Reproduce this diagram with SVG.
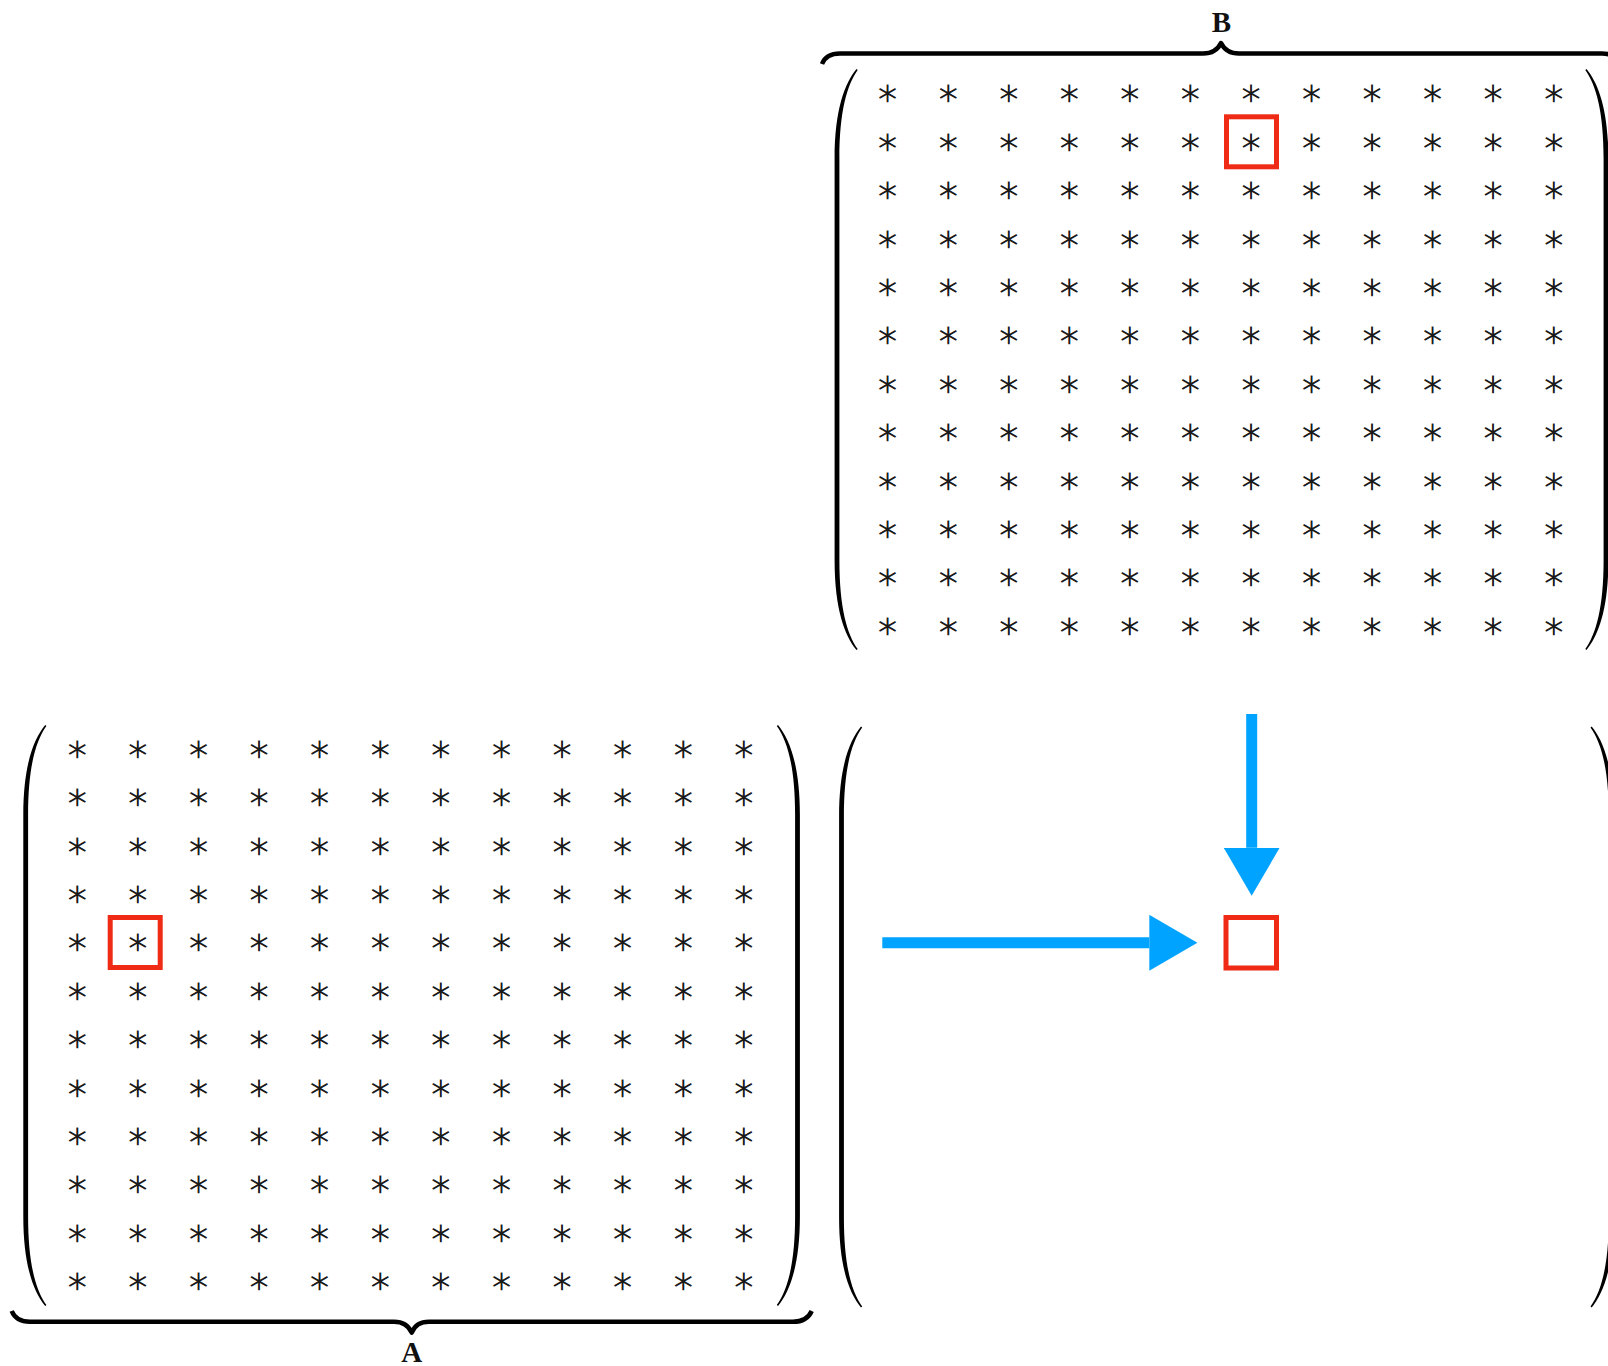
<svg xmlns="http://www.w3.org/2000/svg" xmlns:xlink="http://www.w3.org/1999/xlink" width="1608" height="1366" viewBox="0 0 1608 1366">
<style>
.st{font-family:"DejaVu Sans",sans-serif;font-weight:200;font-size:37px;fill:#1a1a1a;stroke:#1a1a1a;stroke-width:0.9;text-anchor:middle;dominant-baseline:central}
.lbl{font-family:"Liberation Serif",serif;font-weight:bold;font-size:29px;fill:#111;text-anchor:middle}
.brace{fill:none;stroke:#000;stroke-width:4.5;stroke-linejoin:round}
.par{fill:#000}
.box{fill:none;stroke:#ef2b16;stroke-width:5}
.arr{stroke:#00a3ff;stroke-width:11;fill:none}
</style>
<defs>
<path id="lp" d="M19.5,0 C8,14 -2.4,40 -2.4,90 L-2.4,491 C-2.4,541 8,567 19.5,581 L20.7,580.1 C10,565 2.4,539 2.4,491 L2.4,90 C2.4,42 10,16 20.7,0.9 Z"/>
<marker id="ah" viewBox="0 0 48 56" refX="0" refY="28" markerWidth="48" markerHeight="56" markerUnits="userSpaceOnUse" orient="auto">
<path d="M0,0 L48,28 L0,56 Z" fill="#00a3ff"/>
</marker>
</defs>

<g id="matrixB">
<path class="brace" d="M822,64 Q826,53.5 840,53.5 L1203,53.5 Q1216,53.5 1221,43 Q1226,53.5 1239,53.5 L1602,53.5 Q1616,53.5 1620,64"/>
<text class="lbl" x="1221.5" y="32">B</text>
<use href="#lp" class="par" transform="translate(837,69)"/>
<use href="#lp" class="par" transform="translate(1606,69) scale(-1,1)"/>
<g class="st">
<text x="887.7 948.25 1008.8 1069.35 1129.9 1190.45 1251 1311.55 1372.1 1432.65 1493.2 1553.75" y="92.8">∗∗∗∗∗∗∗∗∗∗∗∗</text>
<text x="887.7 948.25 1008.8 1069.35 1129.9 1190.45 1251 1311.55 1372.1 1432.65 1493.2 1553.75" y="141.2">∗∗∗∗∗∗∗∗∗∗∗∗</text>
<text x="887.7 948.25 1008.8 1069.35 1129.9 1190.45 1251 1311.55 1372.1 1432.65 1493.2 1553.75" y="189.6">∗∗∗∗∗∗∗∗∗∗∗∗</text>
<text x="887.7 948.25 1008.8 1069.35 1129.9 1190.45 1251 1311.55 1372.1 1432.65 1493.2 1553.75" y="238">∗∗∗∗∗∗∗∗∗∗∗∗</text>
<text x="887.7 948.25 1008.8 1069.35 1129.9 1190.45 1251 1311.55 1372.1 1432.65 1493.2 1553.75" y="286.4">∗∗∗∗∗∗∗∗∗∗∗∗</text>
<text x="887.7 948.25 1008.8 1069.35 1129.9 1190.45 1251 1311.55 1372.1 1432.65 1493.2 1553.75" y="334.8">∗∗∗∗∗∗∗∗∗∗∗∗</text>
<text x="887.7 948.25 1008.8 1069.35 1129.9 1190.45 1251 1311.55 1372.1 1432.65 1493.2 1553.75" y="383.2">∗∗∗∗∗∗∗∗∗∗∗∗</text>
<text x="887.7 948.25 1008.8 1069.35 1129.9 1190.45 1251 1311.55 1372.1 1432.65 1493.2 1553.75" y="431.6">∗∗∗∗∗∗∗∗∗∗∗∗</text>
<text x="887.7 948.25 1008.8 1069.35 1129.9 1190.45 1251 1311.55 1372.1 1432.65 1493.2 1553.75" y="480">∗∗∗∗∗∗∗∗∗∗∗∗</text>
<text x="887.7 948.25 1008.8 1069.35 1129.9 1190.45 1251 1311.55 1372.1 1432.65 1493.2 1553.75" y="528.4">∗∗∗∗∗∗∗∗∗∗∗∗</text>
<text x="887.7 948.25 1008.8 1069.35 1129.9 1190.45 1251 1311.55 1372.1 1432.65 1493.2 1553.75" y="576.8">∗∗∗∗∗∗∗∗∗∗∗∗</text>
<text x="887.7 948.25 1008.8 1069.35 1129.9 1190.45 1251 1311.55 1372.1 1432.65 1493.2 1553.75" y="625.2">∗∗∗∗∗∗∗∗∗∗∗∗</text>
</g>
</g>
<g id="boxB"><rect class="box" x="1226.5" y="116.8" width="50" height="50"/></g>

<g id="matrixA">
<use href="#lp" class="par" transform="translate(25.7,725)"/>
<use href="#lp" class="par" transform="translate(797.5,725) scale(-1,1)"/>
<path class="brace" d="M11.7,1311 Q16,1321.8 30,1321.8 L394,1321.8 Q407,1321.8 411.7,1332.7 Q416,1321.8 429,1321.8 L793,1321.8 Q807,1321.8 811.7,1311"/>
<text class="lbl" x="411.7" y="1362">A</text>
<g class="st">
<text x="77.3 137.9 198.5 259.1 319.7 380.3 440.9 501.5 562.1 622.7 683.3 743.9" y="748.3">∗∗∗∗∗∗∗∗∗∗∗∗</text>
<text x="77.3 137.9 198.5 259.1 319.7 380.3 440.9 501.5 562.1 622.7 683.3 743.9" y="796.7">∗∗∗∗∗∗∗∗∗∗∗∗</text>
<text x="77.3 137.9 198.5 259.1 319.7 380.3 440.9 501.5 562.1 622.7 683.3 743.9" y="845.1">∗∗∗∗∗∗∗∗∗∗∗∗</text>
<text x="77.3 137.9 198.5 259.1 319.7 380.3 440.9 501.5 562.1 622.7 683.3 743.9" y="893.5">∗∗∗∗∗∗∗∗∗∗∗∗</text>
<text x="77.3 137.9 198.5 259.1 319.7 380.3 440.9 501.5 562.1 622.7 683.3 743.9" y="941.9">∗∗∗∗∗∗∗∗∗∗∗∗</text>
<text x="77.3 137.9 198.5 259.1 319.7 380.3 440.9 501.5 562.1 622.7 683.3 743.9" y="990.3">∗∗∗∗∗∗∗∗∗∗∗∗</text>
<text x="77.3 137.9 198.5 259.1 319.7 380.3 440.9 501.5 562.1 622.7 683.3 743.9" y="1038.7">∗∗∗∗∗∗∗∗∗∗∗∗</text>
<text x="77.3 137.9 198.5 259.1 319.7 380.3 440.9 501.5 562.1 622.7 683.3 743.9" y="1087.1">∗∗∗∗∗∗∗∗∗∗∗∗</text>
<text x="77.3 137.9 198.5 259.1 319.7 380.3 440.9 501.5 562.1 622.7 683.3 743.9" y="1135.5">∗∗∗∗∗∗∗∗∗∗∗∗</text>
<text x="77.3 137.9 198.5 259.1 319.7 380.3 440.9 501.5 562.1 622.7 683.3 743.9" y="1183.9">∗∗∗∗∗∗∗∗∗∗∗∗</text>
<text x="77.3 137.9 198.5 259.1 319.7 380.3 440.9 501.5 562.1 622.7 683.3 743.9" y="1232.3">∗∗∗∗∗∗∗∗∗∗∗∗</text>
<text x="77.3 137.9 198.5 259.1 319.7 380.3 440.9 501.5 562.1 622.7 683.3 743.9" y="1280.7">∗∗∗∗∗∗∗∗∗∗∗∗</text>
</g>
</g>
<g id="boxA"><rect class="box" x="110.2" y="917.5" width="50" height="50"/></g>

<g id="matrixC">
<use href="#lp" class="par" transform="translate(841.5,726.5)"/>
<use href="#lp" class="par" transform="translate(1611.2,726.5) scale(-1,1)"/>
</g>
<g id="boxC"><rect class="box" x="1226" y="917.5" width="50.5" height="50.5"/></g>

<g id="connectors">
<line class="arr" x1="1251.7" y1="714" x2="1251.7" y2="847.7" marker-end="url(#ah)"/>
<line class="arr" x1="882.3" y1="942.8" x2="1149.3" y2="942.8" marker-end="url(#ah)"/>
</g>
</svg>
